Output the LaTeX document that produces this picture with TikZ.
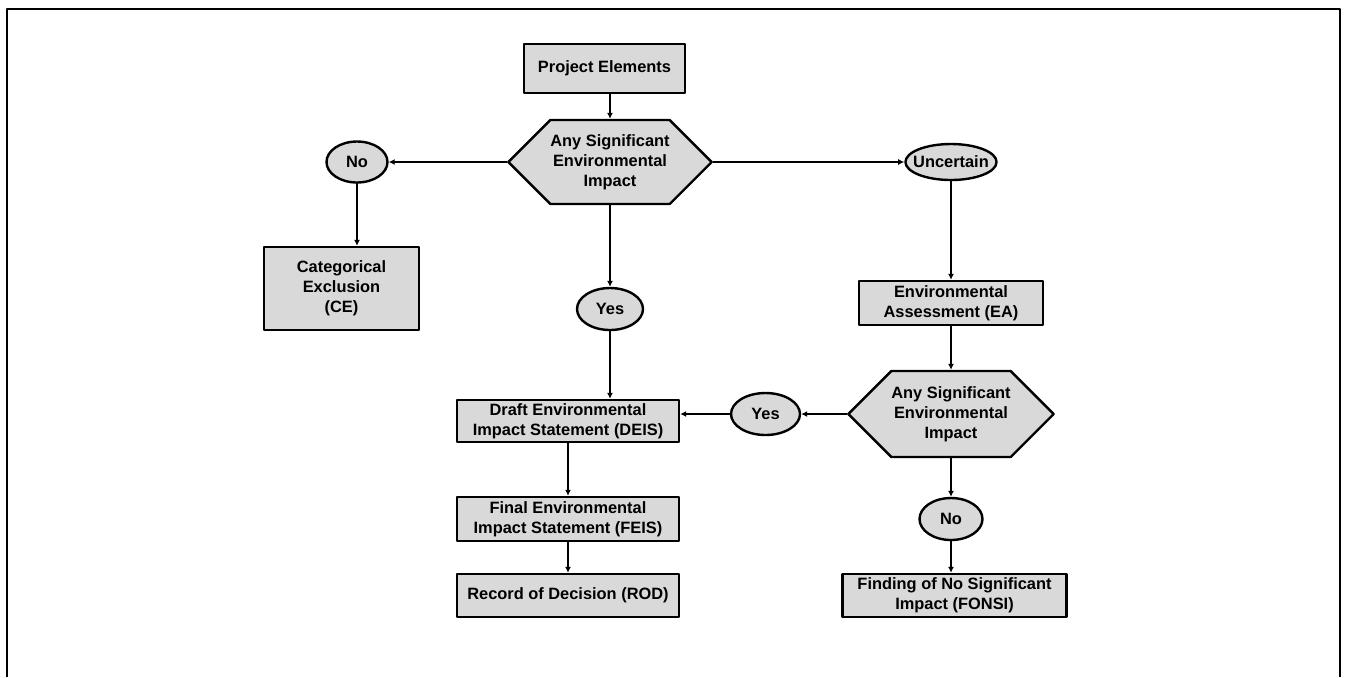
\documentclass[tikz,border=0pt]{standalone}
\usepackage{fontspec}
\setmainfont{Liberation Sans}
\usetikzlibrary{shapes.geometric, shapes.symbols, arrows.meta}
\definecolor{boxgray}{RGB}{217,217,217}

\begin{document}
\begin{tikzpicture}[x=0.5pt, y=-0.5pt, line cap=round, line join=round,
    font=\fontsize{8.2}{10}\selectfont\bfseries,
    box/.style={draw=black, fill=boxgray, line width=1.2pt, align=center, inner sep=1pt},
    oval/.style={box, ellipse, inner sep=0pt},
    hexa/.style={box, signal, signal to=east and west, signal pointer angle=90, inner sep=0pt},
    arr/.style={-{Latex[length=3pt, width=3pt]}, line width=1.2pt}]
    %Page and Frame
    \useasboundingbox (0,0) rectangle (1349,677);
    \draw[line width=1.3pt, line cap=butt] (7,677) -- (7,9) -- (1340,9) -- (1340,677);

    %Nodes
        %Top and First Question
    \node[box, minimum width=80.5pt, minimum height=24.5pt] (proj) at (604.5,68.5) {Project Elements};
    \node[hexa, minimum width=99pt, minimum height=42pt] (hexA) at (610,162) {Any Significant\\Environmental\\Impact};
        %Left Branch
    \node[oval, minimum width=30.5pt, minimum height=20.5pt] (noA) at (357,162) {No};
    \node[box, minimum width=77.5pt, minimum height=41.5pt] (ce) at (341.5,288.5) {Categorical\\Exclusion\\(CE)};
        %Middle Branch
    \node[oval, minimum width=33pt, minimum height=21pt] (yesA) at (610,309) {Yes};
    \node[box, minimum width=111pt, minimum height=21pt] (deis) at (568,421) {Draft Environmental\\Impact Statement (DEIS)};
    \node[box, minimum width=111pt, minimum height=22pt] (feis) at (568,519) {Final Environmental\\Impact Statement (FEIS)};
    \node[box, minimum width=111pt, minimum height=21.5pt] (rod) at (568,595.5) {Record of Decision (ROD)};
        %Right Branch
    \node[oval, inner xsep=-2.8pt, minimum height=18pt] (unc) at (951,162) {Uncertain};
    \node[box, minimum width=92pt, minimum height=22pt] (ea) at (951,303) {Environmental\\Assessment (EA)};
    \node[hexa, minimum width=99pt, minimum height=43pt] (hexB) at (951,414) {Any Significant\\Environmental\\Impact};
    \node[oval, minimum width=34.5pt, minimum height=21pt] (yesB) at (765.5,414) {Yes};
    \node[oval, minimum width=31.5pt, minimum height=21pt] (noB) at (951,519) {No};
    \node[box, minimum width=112pt, minimum height=21.5pt] (fonsi) at (954.5,595.5) {Finding of No Significant\\Impact (FONSI)};

    %Connectors
    \draw[arr] (hexA.north |- proj.south) -- (hexA.north);
    \draw[arr] (hexA.west) -- (noA.east);
    \draw[arr] (hexA.east) -- (unc.west);
    \draw[arr] (noA.south) -- (noA.south |- ce.north);
    \draw[arr] (hexA.south) -- (yesA.north);
    \draw[arr] (yesA.south) -- (yesA.south |- deis.north);
    \draw[arr] (deis.south) -- (feis.north);
    \draw[arr] (feis.south) -- (rod.north);
    \draw[arr] (unc.south) -- (ea.north);
    \draw[arr] (ea.south) -- (hexB.north);
    \draw[arr] (hexB.west) -- (yesB.east);
    \draw[arr] (yesB.west) -- (yesB.west -| deis.east);
    \draw[arr] (hexB.south) -- (noB.north);
    \draw[arr] (noB.south) -- (noB.south |- fonsi.north);
\end{tikzpicture}
\end{document}
